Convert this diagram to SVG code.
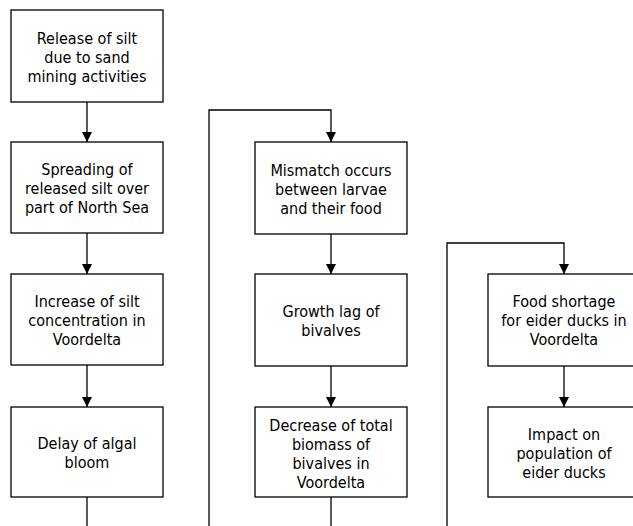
<svg xmlns="http://www.w3.org/2000/svg" width="633" height="526" viewBox="0 0 633 526">
<style>
.box{fill:#fff;stroke:#000;stroke-width:1.3}
.ln{fill:none;stroke:#000;stroke-width:1.3}
text{font-family:"DejaVu Sans Condensed","DejaVu Sans",Verdana,sans-serif;font-stretch:condensed;font-size:16px;fill:#000;text-anchor:middle}
</style>
<defs>
<marker id="ah" viewBox="0 0 10 10" refX="10" refY="5" markerWidth="10" markerHeight="10" markerUnits="userSpaceOnUse" orient="auto">
<path d="M0,0 L10,5 L0,10 Z" fill="#000"/>
</marker>
</defs>
<rect width="633" height="526" fill="#fff"/>
<g id="connectors">
<line class="ln" x1="87" y1="102" x2="87" y2="142" marker-end="url(#ah)"/>
<line class="ln" x1="87" y1="233" x2="87" y2="274" marker-end="url(#ah)"/>
<line class="ln" x1="87" y1="365" x2="87" y2="407" marker-end="url(#ah)"/>
<line class="ln" x1="87" y1="497" x2="87" y2="526"/>
<polyline class="ln" points="209,526 209,110 331,110 331,142" marker-end="url(#ah)"/>
<line class="ln" x1="331" y1="234" x2="331" y2="274" marker-end="url(#ah)"/>
<line class="ln" x1="331" y1="366" x2="331" y2="407" marker-end="url(#ah)"/>
<line class="ln" x1="331" y1="497" x2="331" y2="526"/>
<polyline class="ln" points="447,526 447,243 564,243 564,274" marker-end="url(#ah)"/>
<line class="ln" x1="564" y1="366" x2="564" y2="407" marker-end="url(#ah)"/>
</g>
<g id="n1"><rect class="box" x="11" y="10" width="152" height="92"/>
<text x="87" y="44">Release of silt</text><text x="87" y="63">due to sand</text><text x="87" y="82">mining activities</text></g>
<g id="n2"><rect class="box" x="11" y="142" width="152" height="91"/>
<text x="87" y="175">Spreading of</text><text x="87" y="194">released silt over</text><text x="87" y="213">part of North Sea</text></g>
<g id="n3"><rect class="box" x="11" y="274" width="152" height="91"/>
<text x="87" y="307">Increase of silt</text><text x="87" y="326">concentration in</text><text x="87" y="345">Voordelta</text></g>
<g id="n4"><rect class="box" x="11" y="407" width="152" height="90"/>
<text x="87" y="449">Delay of algal</text><text x="87" y="468">bloom</text></g>
<g id="n5"><rect class="box" x="255" y="142" width="152" height="92"/>
<text x="331" y="176">Mismatch occurs</text><text x="331" y="195">between larvae</text><text x="331" y="214">and their food</text></g>
<g id="n6"><rect class="box" x="255" y="274" width="152" height="92"/>
<text x="331" y="317">Growth lag of</text><text x="331" y="336">bivalves</text></g>
<g id="n7"><rect class="box" x="255" y="407" width="152" height="90"/>
<text x="331" y="431">Decrease of total</text><text x="331" y="450">biomass of</text><text x="331" y="469">bivalves in</text><text x="331" y="488">Voordelta</text></g>
<g id="n8"><rect class="box" x="488" y="274" width="152" height="92"/>
<text x="564" y="307">Food shortage</text><text x="564" y="326">for eider ducks in</text><text x="564" y="345">Voordelta</text></g>
<g id="n9"><rect class="box" x="488" y="407" width="152" height="90"/>
<text x="564" y="440">Impact on</text><text x="564" y="459">population of</text><text x="564" y="478">eider ducks</text></g>
</svg>
